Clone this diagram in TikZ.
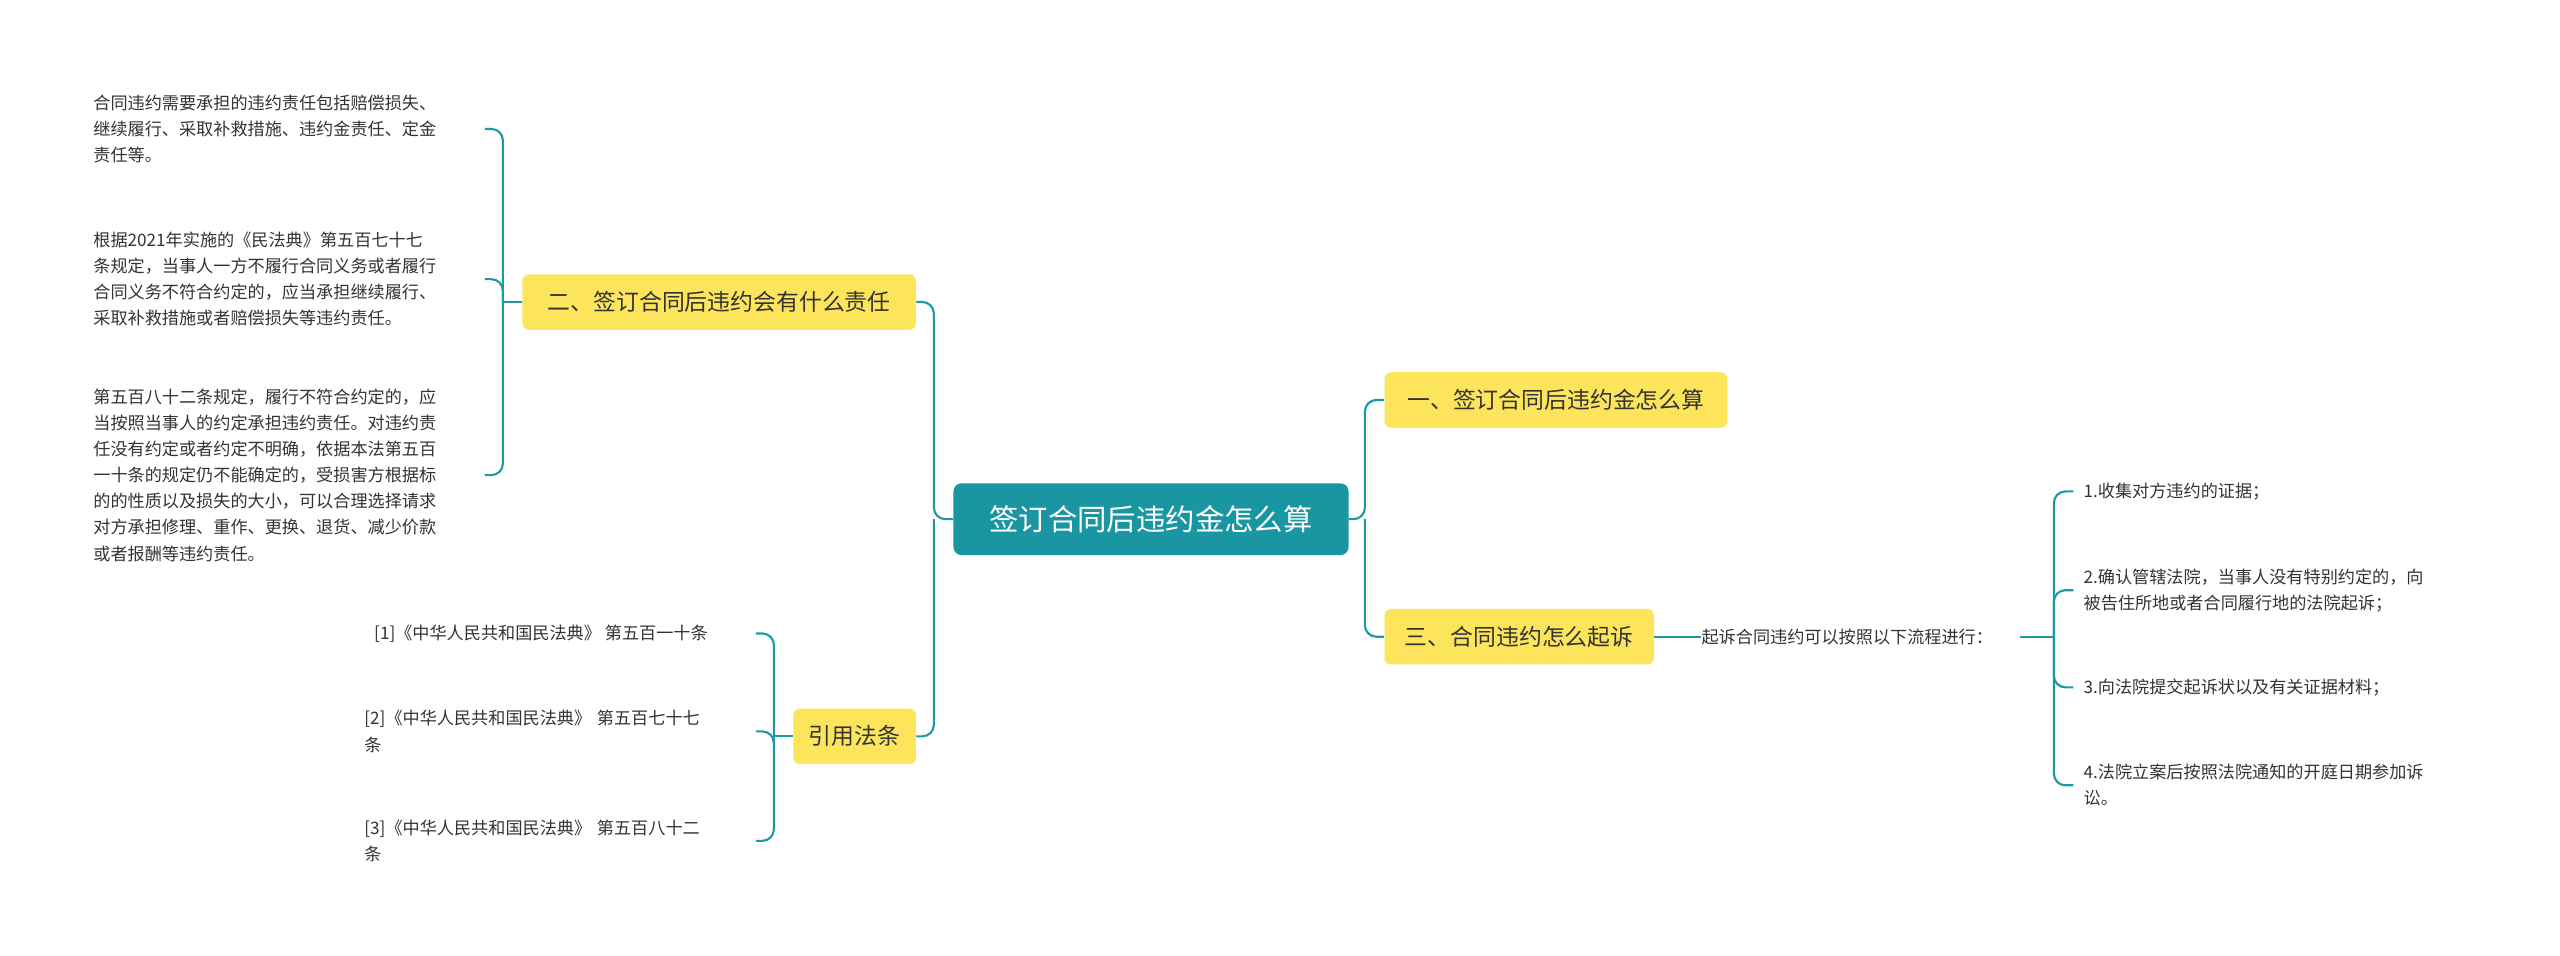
\documentclass[tikz,border=0pt]{standalone}
\usepackage{fontspec}
\setmainfont{Noto Sans CJK SC}
\begin{document}
\begin{tikzpicture}[x=1pt,y=-1pt,
  conn/.style={draw=linec,line width=1.3pt,rounded corners=7pt},
  topic/.style={fill=yel,rounded corners=4pt,text=txt,font=\fontsize{14}{16}\selectfont,inner sep=0pt,minimum height=34pt,align=center},
  leaf/.style={text=txt,font=\fontsize{10.5}{16}\selectfont,inner sep=0pt,align=left,anchor=west},
]
\definecolor{linec}{HTML}{1B9AA6}
\definecolor{cent}{HTML}{1A96A3}
\definecolor{yel}{HTML}{FDE55B}
\definecolor{txt}{HTML}{333333}
\useasboundingbox (0,0) rectangle (1568,585);
\fill[white] (0,0) rectangle (1568,585);

\node[fill=cent,rounded corners=5pt,text=white,font=\fontsize{18}{20}\selectfont,minimum width=242pt,minimum height=44pt,inner sep=0pt] (c) at (705,318) {签订合同后违约金怎么算};

\node[topic,minimum width=210pt] (r1) at (953,245) {一、签订合同后违约金怎么算};
\node[topic,minimum width=165pt] (r3) at (930.5,390) {三、合同违约怎么起诉};
\node[topic,minimum width=241pt] (l2) at (440.5,185) {二、签订合同后违约会有什么责任};
\node[topic,minimum width=75pt] (l3) at (523.5,451) {引用法条};

\node[leaf] (s) at (1042,390) {起诉合同违约可以按照以下流程进行：};
\node[leaf,text width=240pt] (p1) at (1276,301) {1.收集对方违约的证据；};
\node[leaf,text width=240pt] (p2) at (1276,361.5) {2.确认管辖法院，当事人没有特别约定的，向\\被告住所地或者合同履行地的法院起诉；};
\node[leaf,text width=240pt] (p3) at (1276,421) {3.向法院提交起诉状以及有关证据材料；};
\node[leaf,text width=240pt] (p4) at (1276,481) {4.法院立案后按照法院通知的开庭日期参加诉\\讼。};

\node[leaf,text width=238pt] (a1) at (57,79) {合同违约需要承担的违约责任包括赔偿损失、\\继续履行、采取补救措施、违约金责任、定金\\责任等。};
\node[leaf,text width=238pt] (a2) at (57,171) {根据2021年实施的《民法典》第五百七十七\\条规定，当事人一方不履行合同义务或者履行\\合同义务不符合约定的，应当承担继续履行、\\采取补救措施或者赔偿损失等违约责任。};
\node[leaf,text width=238pt] (a3) at (57,291) {第五百八十二条规定，履行不符合约定的，应\\当按照当事人的约定承担违约责任。对违约责\\任没有约定或者约定不明确，依据本法第五百\\一十条的规定仍不能确定的，受损害方根据标\\的的性质以及损失的大小，可以合理选择请求\\对方承担修理、重作、更换、退货、减少价款\\或者报酬等违约责任。};

\node[leaf] (b1) at (229,388) {[1]《中华人民共和国民法典》 第五百一十条};
\node[leaf,text width=238pt] (b2) at (223,448) {[2]《中华人民共和国民法典》 第五百七十七\\条};
\node[leaf,text width=238pt] (b3) at (223,515) {[3]《中华人民共和国民法典》 第五百八十二\\条};

\coordinate (cr) at (836,318);
\coordinate (cl) at (572,318);
\draw[conn] (c.east) -- (cr) |- (r1.west);
\draw[conn] (cr) |- (r3.west);
\draw[conn] (c.west) -- (cl) |- (l2.east);
\draw[conn] (cl) |- (l3.east);

\draw[conn] (r3.east) -- (s.west);
\coordinate (sr) at (1258,390);
\draw[conn] (1237,390) -- (sr);
\foreach \p in {p1,p2,p3,p4} \draw[conn] (sr) |- ([xshift=-6pt]\p.west);

\coordinate (al) at (308,185);
\draw[conn] (l2.west) -- (al);
\foreach \p in {79,171,291} \draw[conn] (al) |- (297,\p);

\coordinate (bl) at (474,451);
\draw[conn] (l3.west) -- (bl);
\foreach \p in {388,448,515} \draw[conn] (bl) |- (463,\p);
\end{tikzpicture}
\end{document}
